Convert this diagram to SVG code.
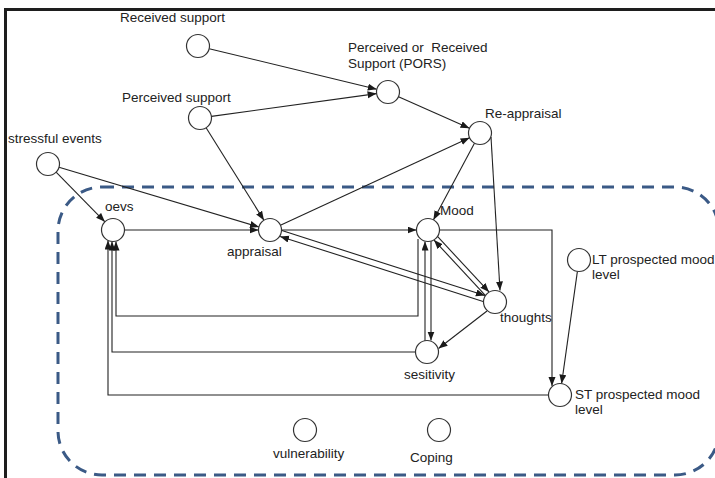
<svg xmlns="http://www.w3.org/2000/svg" width="715" height="478" viewBox="0 0 715 478">
<defs>
<marker id="ah" markerUnits="userSpaceOnUse" markerWidth="10" markerHeight="8" refX="9" refY="3.5" orient="auto">
<path d="M0,0 L9,3.5 L0,7 z" fill="#1a1a1a"/>
</marker>
<style>
text{font-family:"Liberation Sans",Arial,sans-serif;font-size:13.5px;fill:#222}
.n{fill:#fff;stroke:#333;stroke-width:1.2}
.c{fill:none;stroke:#222;stroke-width:1.1;marker-end:url(#ah)}
</style>
</defs>
<rect width="715" height="478" fill="#fff"/>
<path d="M4,9.5 H715 M5.5,9 V478" fill="none" stroke="#1e1e1e" stroke-width="3"/>
<rect x="58" y="187" width="661" height="288" rx="44" ry="44" fill="none" stroke="#3b5a86" stroke-width="3" stroke-dasharray="12,8"/>
<g id="connectors">
<path class="c" d="M209.2,48.7 L376.8,89.3"/>
<path class="c" d="M211.4,116.4 L376.6,93.6"/>
<path class="c" d="M206.1,127.8 L263.9,220.2"/>
<path class="c" d="M56.1,172.2 L104.9,221.8"/>
<path class="c" d="M59,167.3 L259,227"/>
<path class="c" d="M124.5,230 L258.5,230"/>
<path class="c" d="M398.5,96.7 L469.5,128.3"/>
<path class="c" d="M280.4,225.2 L469.6,137.8"/>
<path class="c" d="M474.6,143.1 L433.4,219.9"/>
<path class="c" d="M491,137 L500,290.5"/>
<path class="c" d="M281.5,230 L416.5,230"/>
<path class="c" d="M439.5,230 H552 V386"/>
<path class="c" d="M577.4,271.4 L561.6,383.6"/>
<path class="c" d="M281.9,230.6 L484.9,295.6"/>
<path class="c" d="M483.1,301.4 L280.1,236.4"/>
<path class="c" d="M437.7,236.7 L489,291.9"/>
<path class="c" d="M485.3,295.3 L434,240.1"/>
<path class="c" d="M425,341 V241.5"/>
<path class="c" d="M431,241 V340.5"/>
<path class="c" d="M418,239 V316 H116 V241.5"/>
<path class="c" d="M415.5,352 H112 V241.5"/>
<path class="c" d="M548.5,395 H108 V240.5"/>
<path class="c" d="M487,311 L438.5,348.5"/>
</g>
<g id="received-support"><circle class="n" cx="198" cy="46" r="11.5"/><text x="120" y="22">Received support</text></g>
<g id="perceived-support"><circle class="n" cx="200" cy="118" r="11.5"/><text x="122" y="102">Perceived support</text></g>
<g id="stressful-events"><circle class="n" cx="48" cy="164" r="11.5"/><text x="8" y="143">stressful events</text></g>
<g id="oevs"><circle class="n" cx="113" cy="230" r="11.5"/><text x="105" y="211">oevs</text></g>
<g id="appraisal"><circle class="n" cx="270" cy="230" r="11.5"/><text x="227" y="256">appraisal</text></g>
<g id="pors"><circle class="n" cx="388" cy="92" r="11.5"/><text x="348" y="52" xml:space="preserve">Perceived or  Received</text><text x="348" y="68">Support (PORS)</text></g>
<g id="re-appraisal"><circle class="n" cx="480" cy="133" r="11.5"/><text x="485" y="118">Re-appraisal</text></g>
<g id="mood"><circle class="n" cx="428" cy="230" r="11.5"/><text x="440" y="215">Mood</text></g>
<g id="thoughts"><circle class="n" cx="495" cy="302" r="11.5"/><text x="500" y="322">thoughts</text></g>
<g id="sesitivity"><circle class="n" cx="427" cy="352" r="11.5"/><text x="404" y="379">sesitivity</text></g>
<g id="lt-prospected"><circle class="n" cx="579" cy="260" r="11.5"/><text x="592" y="264">LT prospected mood</text><text x="592" y="279">level</text></g>
<g id="st-prospected"><circle class="n" cx="560" cy="395" r="11.5"/><text x="575" y="399">ST prospected mood</text><text x="575" y="414">level</text></g>
<g id="vulnerability"><circle class="n" cx="305" cy="430" r="11.5"/><text x="273" y="458">vulnerability</text></g>
<g id="coping"><circle class="n" cx="439" cy="430" r="11.5"/><text x="410" y="462">Coping</text></g>
</svg>
